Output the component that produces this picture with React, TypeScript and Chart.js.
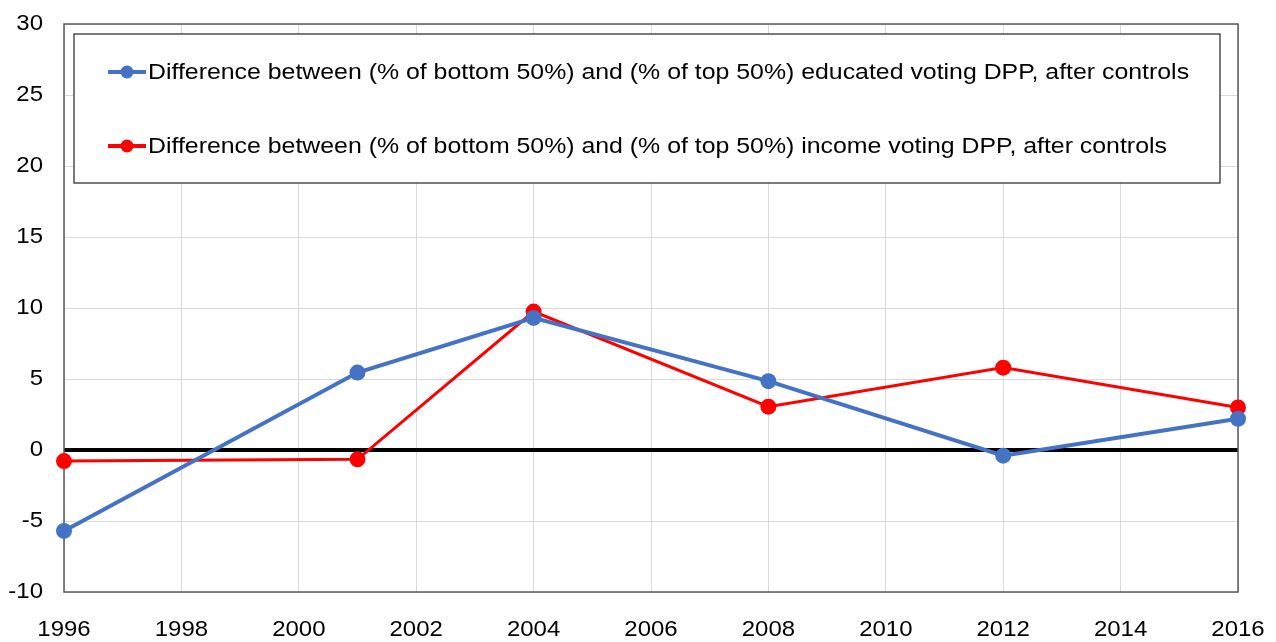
import React, { useEffect, useRef } from "react";
import { Chart, registerables } from "chart.js";

Chart.register(...registerables);

const years = [1996, 2001, 2004, 2008, 2012, 2016];
const educationDiff = [-5.7, 5.45, 9.3, 4.85, -0.4, 2.2];
const incomeDiff = [-0.78, -0.66, 9.75, 3.05, 5.8, 3.0];
const seriesLabels = [
  "Difference between (% of bottom 50%) and (% of top 50%) educated voting DPP, after controls",
  "Difference between (% of bottom 50%) and (% of top 50%) income voting DPP, after controls",
];
const seriesColors = ["#4472C4", "#FF0000"];
const yMin = -10;
const yMax = 30;
const yStep = 5;
const xMin = 1996;
const xMax = 2016;
const xStep = 2;

const FONT = "'Liberation Sans', Arial, sans-serif";
const STRETCH = 1.115;

function stretchedText(ctx: any, text: string, x: number, y: number, align: string) {
  ctx.save();
  ctx.translate(x, y);
  ctx.scale(STRETCH, 1);
  ctx.textAlign = align;
  ctx.fillText(text, 0, 0);
  ctx.restore();
}

const frameAndLegend = {
  id: "frameAndLegend",
  beforeDatasetsDraw(chart: any) {
    const { ctx, chartArea } = chart;
    ctx.save();
    ctx.strokeStyle = "#595959";
    ctx.lineWidth = 1.5;
    ctx.strokeRect(chartArea.left, chartArea.top, chartArea.right - chartArea.left, chartArea.bottom - chartArea.top);
    ctx.restore();
  },
  afterDraw(chart: any) {
    const { ctx, chartArea } = chart;
    const xs = chart.scales.x;
    const ys = chart.scales.y;
    ctx.save();
    ctx.fillStyle = "#000000";
    ctx.font = `21.5px ${FONT}`;
    ctx.textBaseline = "middle";
    ys.ticks.forEach((t: any) => {
      stretchedText(ctx, String(t.value), chartArea.left - 21, ys.getPixelForValue(t.value), "right");
    });
    xs.ticks.forEach((t: any) => {
      stretchedText(ctx, String(t.value), xs.getPixelForValue(t.value), chartArea.bottom + 38, "center");
    });

    const bx = chartArea.left + 10;
    const by = chartArea.top + 10;
    const bw = 1146;
    const bh = 149;
    ctx.fillStyle = "#ffffff";
    ctx.fillRect(bx, by, bw, bh);
    ctx.strokeStyle = "#222222";
    ctx.lineWidth = 1.2;
    ctx.strokeRect(bx, by, bw, bh);
    const rows = [by + 38, by + 112];
    chart.data.datasets.forEach((ds: any, i: number) => {
      const y = rows[i];
      const x0 = bx + 34;
      const x1 = bx + 72;
      ctx.strokeStyle = ds.borderColor;
      ctx.lineWidth = 4;
      ctx.beginPath();
      ctx.moveTo(x0, y);
      ctx.lineTo(x1, y);
      ctx.stroke();
      ctx.fillStyle = ds.borderColor;
      ctx.beginPath();
      ctx.arc((x0 + x1) / 2, y, 6.5, 0, Math.PI * 2);
      ctx.fill();
      ctx.fillStyle = "#000000";
      ctx.font = `22.3px ${FONT}`;
      ctx.textBaseline = "middle";
      stretchedText(ctx, ds.label, x1 + 2, y + 1, "left");
    });
    ctx.restore();
  },
};

export default function App() {
  const ref = useRef<HTMLCanvasElement | null>(null);
  useEffect(() => {
    document.body.style.margin = "0";
    const canvas = ref.current;
    if (!canvas) return;
    const chart = new Chart(canvas, {
      type: "line",
      data: {
        datasets: [
          {
            label: seriesLabels[0],
            data: years.map((x, i) => ({ x, y: educationDiff[i] })),
            borderColor: seriesColors[0],
            backgroundColor: seriesColors[0],
            borderWidth: 4,
            pointRadius: 8,
            pointHoverRadius: 8,
            pointBorderWidth: 0,
            tension: 0,
            clip: false as any,
          },
          {
            label: seriesLabels[1],
            data: years.map((x, i) => ({ x, y: incomeDiff[i] })),
            borderColor: seriesColors[1],
            backgroundColor: seriesColors[1],
            borderWidth: 3,
            pointRadius: 8,
            pointHoverRadius: 8,
            pointBorderWidth: 0,
            tension: 0,
            clip: false as any,
          },
        ],
      },
      options: {
        animation: false,
        responsive: true,
        maintainAspectRatio: false,
        layout: { padding: { left: 0, right: 38, top: 24, bottom: 0 } },
        plugins: { legend: { display: false }, tooltip: { enabled: false } },
        scales: {
          x: {
            type: "linear",
            min: xMin,
            max: xMax,
            border: { display: false },
            grid: { color: "#d9d9d9", lineWidth: 1, drawTicks: false },
            ticks: { stepSize: xStep, display: false, autoSkip: false },
            afterFit: (s: any) => {
              s.height = 50;
            },
          },
          y: {
            min: yMin,
            max: yMax,
            border: { display: false },
            grid: {
              color: (c: any) => (c.tick && c.tick.value === 0 ? "#000000" : "#d9d9d9"),
              lineWidth: (c: any) => (c.tick && c.tick.value === 0 ? 4 : 1),
              drawTicks: false,
            },
            ticks: { stepSize: yStep, display: false },
            afterFit: (s: any) => {
              s.width = 64;
            },
          },
        },
      },
      plugins: [frameAndLegend],
    });
    return () => chart.destroy();
  }, []);
  return (
    <div style={{ position: "fixed", left: 0, top: 0, width: 1276, height: 642, background: "#ffffff" }}>
      <canvas ref={ref} />
    </div>
  );
}
